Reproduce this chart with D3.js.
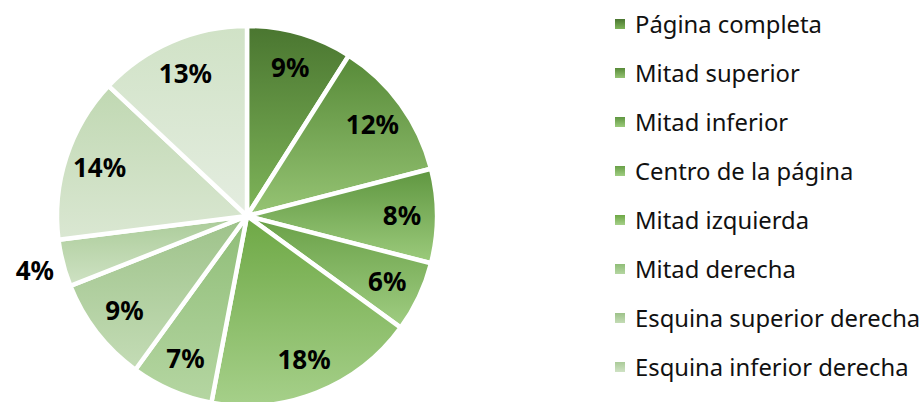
<!DOCTYPE html>
<html>
<head>
<meta charset="utf-8">
<script src="https://cdn.jsdelivr.net/npm/d3@7"></script>
<style>
  body { margin: 0; background: #fff; }
  svg { display: block; }
</style>
</head>
<body>
<div id="chart"></div>
<script>
// data
const categories = [
  "Página completa",
  "Mitad superior",
  "Mitad inferior",
  "Centro de la página",
  "Mitad izquierda",
  "Mitad derecha",
  "Esquina superior derecha",
  "Esquina inferior derecha",
  "Esquina superior izquierda",
  "Esquina inferior izquierda"
];
const values = [9, 12, 8, 6, 18, 7, 9, 4, 14, 13];

// gradient colours (top -> bottom) per slice
const topColors = ["#4a7630", "#578a38", "#5f9640", "#69a047", "#6ea845", "#8fbd77", "#9dc289", "#aacb98", "#c0d8b2", "#d0e2c6"];
const bottomColors = ["#7fb55a", "#96c474", "#9ccb7c", "#a0cd82", "#a6d08a", "#b5d6a2", "#c4dcb6", "#cfe2c4", "#dae7d2", "#e4ede0"];

const width = 921, height = 402;
const cx = 247, cy = 216, radius = 190;

const data = categories.map((c, i) => ({ name: c, value: values[i], i: i }));

const svg = d3.select("#chart").append("svg")
  .attr("width", width)
  .attr("height", height);

const defs = svg.append("defs");
data.forEach(d => {
  const g = defs.append("linearGradient")
    .attr("id", "grad" + d.i)
    .attr("x1", 0).attr("y1", 0).attr("x2", 0).attr("y2", 1);
  g.append("stop").attr("offset", "0%").attr("stop-color", topColors[d.i]);
  g.append("stop").attr("offset", "100%").attr("stop-color", bottomColors[d.i]);
});

const pie = d3.pie().sort(null).value(d => d.value);
const arcs = pie(data);

const arc = d3.arc().innerRadius(0).outerRadius(radius);
const labelArc = d3.arc().innerRadius(155).outerRadius(155);
const outerLabelArc = d3.arc().innerRadius(219).outerRadius(219);

const g = svg.append("g").attr("transform", `translate(${cx},${cy})`);

g.selectAll("path")
  .data(arcs)
  .join("path")
  .attr("d", arc)
  .attr("fill", d => `url(#grad${d.data.i})`)
  .attr("stroke", "#fff")
  .attr("stroke-width", 4.5)
  .attr("stroke-linejoin", "round");

g.selectAll("text")
  .data(arcs)
  .join("text")
  .attr("transform", d => `translate(${(d.data.value < 5 ? outerLabelArc : labelArc).centroid(d)})`)
  .attr("text-anchor", "middle")
  .attr("dy", "0.36em")
  .style("font-family", "'Noto Sans', sans-serif")
  .style("font-weight", "bold")
  .style("font-size", "26px")
  .attr("fill", "#000")
  .text(d => d.data.value + "%");

// legend (entries that don't fit in the box are cut, as in the original)
const rowH = 49, legendTop = 24;
const legendData = data.filter((d, i) => legendTop + i * rowH + 14 < height);

const legend = svg.append("g").attr("transform", `translate(615,${legendTop})`);
const rows = legend.selectAll("g")
  .data(legendData)
  .join("g")
  .attr("transform", (d, i) => `translate(0,${i * rowH})`);

rows.append("rect")
  .attr("x", 0).attr("y", -5)
  .attr("width", 10).attr("height", 10)
  .attr("fill", d => `url(#grad${d.i})`);

rows.append("text")
  .attr("x", 20)
  .attr("dy", "0.36em")
  .style("font-family", "'Noto Sans', sans-serif")
  .style("font-size", "23.8px")
  .attr("fill", "#111")
  .text(d => d.name);
</script>
</body>
</html>
